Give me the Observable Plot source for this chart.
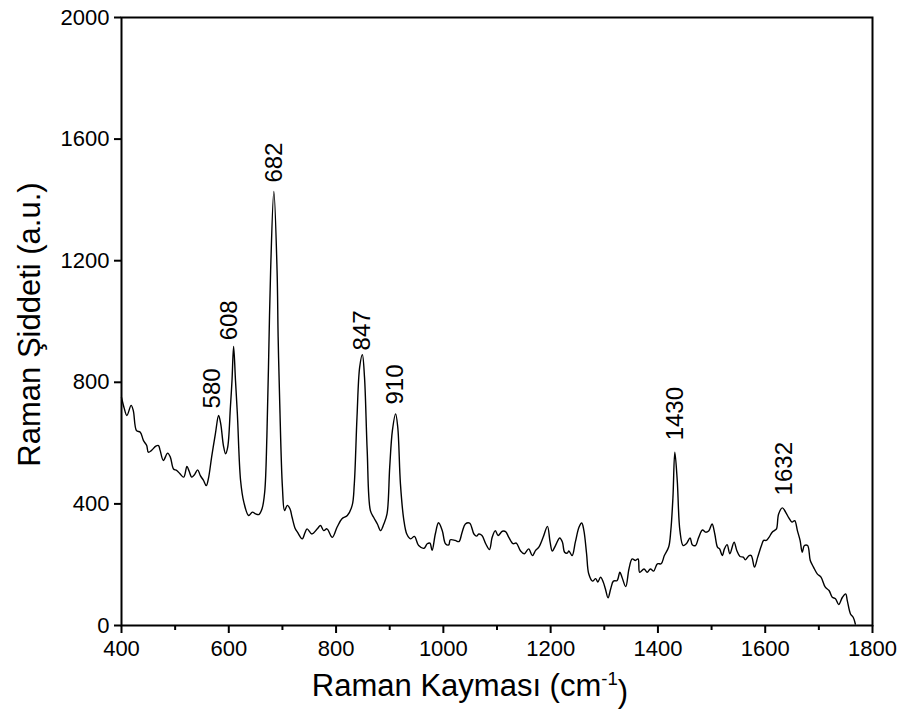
<!DOCTYPE html>
<html>
<head>
<meta charset="utf-8">
<script src="https://cdn.jsdelivr.net/npm/d3@7"></script>
<script src="https://cdn.jsdelivr.net/npm/@observablehq/plot@0.6"></script>
<style>
  html, body { margin: 0; padding: 0; background: #fff; }
  #chart svg { display: block; }
</style>
</head>
<body>
<div id="chart"></div>
<script>
const ramanShift = [400,405,410,418,422,428,435,441,447,450,456,464,469,472,478,486,491,497,503,509,516,522,526,531,536,542,547,553,558,562,568,575,581,585,590,594,598,603,606,609,612.5,616,622,628,637,644,650,656,662,667,671,674,678,684,690,692,695,700,704,709,714,718,724,728,737,742,746,755,765,771,777,783,793,802,811,821,830,834,839,844,849,853,858,864,870,877,883,889,895,900,905,911,915,920,926,932,939,946,954,964,970,975,979,985,991,998,1004,1010,1013,1022,1029,1035,1041,1049,1057,1062,1066,1072,1079,1086,1091,1097,1102,1110,1116,1122,1130,1136,1144,1151,1159,1166,1172,1178,1186,1194,1199,1203,1209,1217,1222,1226,1231,1234,1240,1246,1253,1258,1262,1267,1271,1278,1284,1288,1293,1298,1302,1307,1312,1317,1324,1329,1333,1340,1346,1352,1358,1363,1366,1374,1380,1386,1392,1399,1406,1412,1420,1424,1428,1431.5,1436,1441,1447,1453,1460,1464,1470,1476,1483,1489,1495,1501,1506,1511,1515,1520,1524,1529,1534,1542,1547,1553,1559,1563,1570,1574,1580,1586,1593,1597,1602,1607,1613,1617,1621,1625,1632,1638,1644,1650,1655,1660,1665,1669,1673,1679,1684,1690,1697,1704,1712,1719,1725,1731,1737,1744,1750,1753,1759,1764,1768];
const intensity = [750,715,691,724,707,641,636,608,592,570,576,590,592,576,543,567,554,515,510,499,488,523,508,488,496,512,493,477,460,483,554,630,691,663,592,565,587,718,806,918,806,696,477,406,362,373,367,365,384,440,620,850,1168,1428,1168,950,730,455,378,395,384,356,318,307,285,305,318,301,318,329,312,318,290,324,351,362,395,466,685,850,891,817,576,378,356,334,312,334,367,521,641,696,652,466,351,300,285,293,263,254,269,271,247,301,338,312,269,265,282,280,276,307,334,337,301,294,301,296,269,250,290,312,296,310,309,290,269,271,245,236,252,230,247,258,290,326,274,245,263,288,274,241,238,245,230,274,324,337,312,236,170,146,154,143,159,143,121,91,121,146,148,175,159,128,186,219,214,219,175,186,175,186,179,203,203,230,258,312,422,570,477,312,263,269,288,266,263,290,314,307,312,334,301,258,252,230,252,266,236,274,247,227,225,216,230,230,192,225,263,280,280,290,307,312,318,367,387,373,354,340,345,312,280,241,263,263,214,192,170,159,126,115,93,88,69,93,104,82,38,27,5];

const peakLabels = ["580","608","682","847","910","1430","1632"];
const peakLabelX = [570,601,685,849,911,1433,1636];
const peakLabelY = [714,938,1457,905,727,609,428];

const xTicks = [400,600,800,1000,1200,1400,1600,1800];
const xMinorTicks = [500,700,900,1100,1300,1500,1700];
const yTicks = [0,400,800,1200,1600,2000];

const xTitle = "Raman Kayması (cm-1)";
const yTitle = "Raman Şiddeti (a.u.)";

const spectrum = ramanShift.map((x, i) => ({x, y: intensity[i]}));
const peaks = peakLabels.map((t, i) => ({t, x: peakLabelX[i], y: peakLabelY[i]}));

const font = "'Liberation Sans', Arial, Helvetica, sans-serif";

const chart = Plot.plot({
  width: 906,
  height: 713,
  marginLeft: 121,
  marginRight: 34,
  marginTop: 17,
  marginBottom: 88,
  style: {fontFamily: font, background: "#fff", color: "#000"},
  x: {domain: [400, 1800]},
  y: {domain: [0, 2000]},
  marks: [
    Plot.line(spectrum, {x: "x", y: "y", stroke: "#000", strokeWidth: 1.4, curve: "catmull-rom"}),
    Plot.text(peaks, {x: "x", y: "y", text: "t", rotate: -90, textAnchor: "start", fontSize: 24, fill: "#000"}),
    Plot.axisX({ticks: xMinorTicks, tickSize: 5, strokeWidth: 2, text: null, label: null}),
    Plot.axisX({ticks: xTicks, tickSize: 8, strokeWidth: 2, tickPadding: 7, fontSize: 22, label: null, tickFormat: d => String(d)}),
    Plot.axisY({ticks: yTicks, tickSize: 7, strokeWidth: 2, tickPadding: 5, fontSize: 22, label: null, tickFormat: d => String(d)}),
    Plot.frame({stroke: "#000", strokeWidth: 2}),
    Plot.text([xTitle], {frameAnchor: "bottom", lineAnchor: "top", dy: 48, dx: -27, fontSize: 31, fill: "#000", text: d => d}),
    Plot.text([yTitle], {frameAnchor: "left", rotate: -90, textAnchor: "middle", dx: -91, dy: 3, fontSize: 31, fill: "#000", text: d => d})
  ]
});

document.getElementById("chart").appendChild(chart);

// superscript "-1" in the x title
d3.select(chart).selectAll("text").each(function() {
  const el = d3.select(this);
  if (el.text() === xTitle) {
    el.text(null);
    el.append("tspan").text("Raman Kayması (cm");
    el.append("tspan").attr("dy", "-0.55em").attr("font-size", "0.6em").text("-1");
    el.append("tspan").attr("dy", "0.55em").text(")");
  }
});
</script>
</body>
</html>
